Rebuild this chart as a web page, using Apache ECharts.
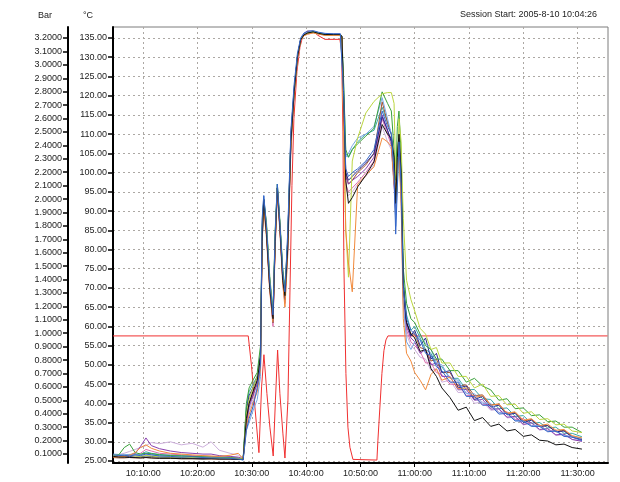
<!DOCTYPE html>
<html>
<head>
<meta charset="utf-8">
<script src="https://cdn.jsdelivr.net/npm/echarts@6/dist/echarts.min.js"></script>
<style>
html, body { margin: 0; padding: 0; background: #fff; }
#chart { width: 620px; height: 482px; }
</style>
</head>
<body>
<div id="chart"></div>
<script>
// minutes after 10:00:00
const times = [
  4.5, 5.5, 6.5, 7.5, 8.5, 9.5, 10.5, 11.5, 13, 15, 17, 19, 21, 22.5, 24, 26, 27.5, 28.4,
  29, 29.5, 30.2, 31, 31.6, 31.9, 32.2, 32.7, 33.3, 33.9, 34.3, 34.7, 35.2, 35.7, 36.1, 36.6, 37.2, 37.8, 38.4, 39, 39.6,
  40.3, 41.3, 42.3, 43.5, 45, 46.3, 46.6,
  46.9, 47.3, 47.8, 48.5, 49.5, 51, 52.5, 54, 55, 55.7, 56.2, 56.5, 56.8, 57.1, 57.5, 57.9, 58.5, 59.3,
  60, 61, 62, 63, 64, 65, 66.5, 68, 69.5, 71, 72.5, 74, 75.5, 77, 78.5, 80, 81.5, 83, 84.5, 86, 87.5, 89, 90.8
]

const tBlack = [
  26.2, 26.0, 26.0, 25.9, 25.9, 25.8, 25.9, 25.8, 25.7, 25.7, 25.6, 25.6, 25.5, 25.6, 25.5, 25.5, 25.4, 25.4,
  36, 40, 43, 46, 52, 82, 93, 84, 70, 62, 82, 96, 85, 72, 68, 80, 108, 121, 130, 134.5, 135.8,
  136.3, 136.6, 136.2, 135.9, 135.9, 135.9, 135.3,
  120, 98, 92, 93.5, 96.3, 99.3, 102.8, 112.5, 110, 109, 104, 92, 104, 110, 100, 71, 61, 58,
  57, 53.5, 54, 49, 47, 44, 41.5, 38.2, 39, 35.5, 36.3, 34, 34.6, 32.8, 33.2, 31.4, 31.8, 30.4, 30.2, 29.2, 29.4, 28.5, 28.1
]
const tBlue = [
  26.6, 26.4, 26.5, 26.3, 26.6, 26.4, 26.8, 26.6, 26.3, 26.2, 26.0, 26.1, 25.9, 25.8, 25.8, 25.7, 25.5, 25.3,
  33, 36, 39, 44, 50, 88, 94, 86, 72, 63, 84, 97, 86, 74, 69, 84, 111, 123, 131, 135, 136.3,
  136.8, 136.9, 136.5, 136.2, 136.1, 136.1, 135.6,
  121, 101, 99, 100, 101, 103, 106, 116, 112, 110, 100, 84, 96, 108, 97, 70, 62, 59,
  58, 56.5, 53, 52.5, 49.5, 48.5, 45.5, 45.5, 41.8, 41.8, 39.5, 39.5, 37.2, 37.4, 35.4, 35.4, 34, 34, 32.6, 32.8, 31.4, 31.2, 30.3
]
const tNavy = [
  26.3, 26.2, 26.1, 26.2, 26.0, 26.1, 26.3, 26.2, 26.0, 25.9, 25.9, 25.8, 25.7, 25.7, 25.6, 25.6, 25.5, 25.4,
  38, 42, 44, 47, 53, 85, 93, 85, 71, 61, 83, 96, 86, 73, 67, 82, 110, 122, 130, 134.8, 136,
  136.5, 136.7, 136.3, 136.0, 136.0, 136.0, 135.4,
  119, 100, 98, 99, 100.5, 102.5, 105, 114.5, 111, 108, 98, 89, 102, 106, 96, 69, 61, 57.5,
  59, 55, 57, 51.5, 53, 48, 48.5, 44, 44.5, 41, 41.8, 39, 39.5, 37, 37.4, 35, 35.6, 34, 34.2, 32.6, 32.8, 31.2, 30.6
]
const tGreen = [
  26.4, 26.6, 28.5, 29.4, 27.2, 26.8, 27.0, 26.9, 26.6, 26.4, 26.3, 26.2, 26.1, 26.0, 26.0, 25.9, 25.7, 25.5,
  40, 44, 46, 48, 55, 86, 93, 87, 73, 64, 85, 97, 87, 75, 70, 82, 109, 121, 130, 134.5, 135.7,
  136.3, 136.6, 136.2, 135.9, 135.9, 135.9, 135.3,
  124, 106, 104, 106, 107.5, 109.5, 111.5, 121, 118, 116, 106, 98, 112, 116, 105, 75, 66, 62,
  61, 58, 55, 54, 51.5, 51.5, 48.5, 48.5, 45.5, 46.5, 44.5, 43.5, 40.8, 41.2, 38.6, 38.8, 36.8, 37, 35.2, 35.4, 33.8, 33.8, 32.4
]
const tLime = [
  26.5, 26.4, 26.3, 26.4, 26.3, 26.2, 26.4, 26.3, 26.1, 26.0, 26.0, 25.9, 25.9, 25.8, 25.7, 25.7, 25.6, 25.5,
  37, 41, 44, 47, 51, 84, 92, 86, 72, 63, 83, 96, 86, 73, 68, 81, 109, 121, 130, 134.5, 135.7,
  136.2, 136.5, 136.1, 135.8, 135.8, 135.8, 135.2,
  115, 85, 72.8, 103, 109, 115.5, 118.5, 120.5, 120.8, 120.8, 118, 100, 95, 114, 108, 88, 72, 67,
  64, 59.5, 58, 54, 54.5, 50.5, 50.5, 47, 47, 44, 45, 41.8, 42, 39.6, 39.8, 37.4, 37.8, 35.8, 36, 34.4, 34.6, 32.8, 32.4
]
const tOrange = [
  26.0, 26.1, 26.2, 26.5, 27.2, 28.5, 29.2, 28.3, 27.6, 27.0, 26.8, 26.6, 26.4, 26.3, 26.2, 26.5, 27.0, 25.6,
  34, 37, 40, 43, 49, 82, 91, 83, 69, 61, 80, 95, 84, 71, 65, 78, 106, 120, 129.5, 134.3, 135.6,
  136.0, 136.3, 136.0, 135.7, 135.7, 135.7, 135.0,
  112, 85, 76.5, 69, 97, 99.3, 101.5, 109, 108, 106.8, 97, 96, 103, 106, 92, 62, 53, 51,
  48, 46, 43.5, 47.5, 49, 46, 46.8, 43.8, 44, 41.5, 42, 39.5, 39.8, 37.4, 37.8, 35.6, 36, 34.2, 34.6, 33, 33.2, 31.6, 31.0
]
const tPurple = [
  26.4, 26.5, 26.4, 26.6, 26.9, 28.8, 31.0, 29.0, 28.2, 27.6, 27.2, 27.0, 26.8, 26.8, 26.4, 26.2, 26.0, 25.6,
  35, 39, 42, 45, 51, 84, 92, 85, 70, 61, 82, 96, 85, 72, 67, 80, 108, 121, 130, 134.6, 135.8,
  136.3, 136.6, 136.2, 135.9, 135.9, 135.9, 135.3,
  118, 99, 97, 98, 99, 101, 104, 115, 111, 108, 99, 90, 103, 107, 96, 68, 60, 57,
  56, 53, 54, 50, 50.5, 47, 47, 43.5, 43.6, 40.8, 41, 38.5, 38.6, 36.4, 36.6, 34.5, 35, 33.2, 33.4, 31.8, 32, 30.6, 30.1
]
const tPink = [
  26.2, 26.3, 26.4, 26.3, 26.5, 27.0, 28.0, 27.6, 27.0, 26.8, 26.6, 26.4, 26.3, 26.2, 26.1, 26.0, 25.8, 25.5,
  36, 40, 43, 45, 50, 83, 92, 84, 70, 60, 81, 95, 85, 72, 66, 79, 107, 120, 129.5, 134.4, 135.7,
  136.2, 136.5, 136.1, 135.8, 135.8, 135.8, 135.2,
  117, 97, 95, 96, 97.5, 100, 103, 114, 110, 107, 97, 90, 101, 106, 95, 67, 59, 56,
  55, 53.5, 50.5, 50.5, 48, 47.5, 45, 44.8, 42, 42, 39.6, 39.8, 37.6, 37.8, 35.8, 36, 34.2, 34.4, 32.8, 33, 31.5, 31.4, 30.4
]
const tSky = [
  26.8, 26.7, 26.6, 26.7, 26.5, 26.6, 26.9, 26.7, 26.4, 26.3, 26.2, 26.1, 26.0, 25.9, 25.9, 25.8, 25.6, 25.2,
  33, 35, 38, 41, 47, 87, 94, 86, 72, 63, 84, 97, 86, 74, 69, 83, 110, 122, 130.5, 134.8, 136,
  136.5, 136.8, 136.4, 136.1, 136.0, 136.0, 135.5,
  122, 104, 105, 107, 109, 110, 112, 119.5, 114, 110, 100, 86, 98, 106, 94, 66, 56, 54,
  56, 58, 55.5, 54, 50.5, 50, 46.5, 46, 42.5, 42.5, 40, 40, 37.6, 37.4, 35.6, 35.4, 34.2, 34.2, 32.8, 32.8, 31.6, 31.4, 30.8
]
const tBrown = [
  25.9, 25.8, 25.8, 25.9, 25.8, 25.8, 25.9, 25.8, 25.7, 25.7, 25.6, 25.6, 25.6, 25.5, 25.5, 25.5, 25.5, 25.4,
  35, 40, 42, 46, 50, 83, 92, 85, 71, 62, 82, 96, 85, 73, 67, 81, 108, 121, 130, 134.6, 135.8,
  136.2, 136.5, 136.1, 135.8, 135.8, 135.8, 135.2,
  119, 100, 97, 98, 100, 102, 105, 118.4, 113, 110, 101, 91, 105, 110, 98, 70, 61, 58,
  58, 54.5, 54, 51, 51.5, 48, 48, 44.5, 44.8, 42, 42.2, 39.6, 39.8, 37.4, 37.6, 35.4, 35.8, 34, 34.2, 32.6, 33, 31.4, 30.8
]
const tTeal = [
  26.5, 26.6, 26.5, 26.7, 26.8, 26.6, 27.4, 27.0, 26.7, 26.5, 26.4, 26.2, 26.1, 26.0, 25.9, 25.8, 25.6, 25.4,
  39, 43, 45, 47, 52, 85, 93, 86, 72, 63, 83, 96, 86, 74, 69, 82, 109, 121, 130, 134.6, 135.8,
  136.3, 136.6, 136.2, 135.9, 135.9, 135.9, 135.4,
  123, 105, 104, 106, 108, 110, 111, 117, 113, 110, 102, 92, 106, 109, 99, 72, 63, 59,
  60, 57, 54, 53, 50, 49.5, 46.5, 46.5, 43.5, 43.6, 41.2, 41, 38.6, 38.8, 36.6, 36.8, 34.8, 35, 33.6, 33.8, 32.2, 32.2, 31.3
]
const tLilac = [
  26.5, 26.7, 27.0, 27.5, 28.0, 28.5, 29.0, 29.8, 29.5, 30.0, 29.2, 29.6, 28.6, 30.0, 27.8, 27.0, 26.5, 25.8,
  34, 38, 41, 44, 49, 82, 91, 84, 70, 61, 81, 95, 84, 71, 66, 79, 107, 120, 129.5, 134.3, 135.6,
  136.0, 136.3, 136.0, 135.7, 135.7, 135.7, 135.1,
  116, 96, 94, 95, 97, 99, 102, 112, 108, 106, 96, 88, 100, 104, 93, 66, 58, 55,
  54, 52, 51.5, 48.5, 49, 45.5, 46, 42.8, 43, 40, 40.4, 38.2, 38.4, 36.2, 36.4, 34.4, 34.8, 33, 33.4, 31.6, 31.9, 30.6, 30.2
]

const tempNames = ['T1', 'T2', 'T3', 'T4', 'T5', 'T6', 'T7', 'T8', 'T9', 'T10', 'T11', 'T12']
const tempValues = [tLilac, tPink, tTeal, tBrown, tPurple, tNavy, tSky, tGreen, tLime, tOrange, tBlack, tBlue]
const tempColors = ['#cdb0dc', '#dd6fae', '#3aa8a8', '#a3552f', '#8a3fb0', '#2b2b8c',
  '#79a8e6', '#3aa13a', '#bcd640', '#f28a3c', '#111111', '#3465c8']

// pressure, bar
const pressTimes = [4.43, 29.34, 29.96, 30.57, 31.31, 31.8, 32.23, 32.78, 33.33, 33.94, 34.35, 34.75, 35.17, 35.73, 36.1,
  36.65, 37.02, 37.39, 37.75, 38.31, 38.86, 39.41, 40.15, 41.26, 42.17, 43.46, 45.3, 46.22, 46.54, 46.78, 46.96,
  47.33, 47.7, 48.07, 48.62, 53.04, 53.22, 53.59, 53.96, 54.33, 54.7, 55.07, 95.5]
const pressValues = [0.98, 0.98, 0.75, 0.45, 0.11, 0.6, 0.84, 0.55, 0.3, 0.085, 0.5, 0.875, 0.55, 0.25, 0.07,
  0.5, 1.3, 2.1, 2.6, 2.95, 3.13, 3.22, 3.25, 3.25, 3.22, 3.19, 3.19, 3.19, 3.1, 2.5, 1.5,
  0.7, 0.3, 0.15, 0.06, 0.055, 0.2, 0.45, 0.7, 0.87, 0.95, 0.98, 0.98]

const timeTicks = [10, 20, 30, 40, 50, 60, 70, 80, 90]
const tempTicks = [25, 30, 35, 40, 45, 50, 55, 60, 65, 70, 75, 80, 85, 90, 95, 100, 105, 110, 115, 120, 125, 130, 135]
const barTicks = [0.1, 0.2, 0.3, 0.4, 0.5, 0.6, 0.7, 0.8, 0.9, 1.0, 1.1, 1.2, 1.3, 1.4, 1.5, 1.6,
  1.7, 1.8, 1.9, 2.0, 2.1, 2.2, 2.3, 2.4, 2.5, 2.6, 2.7, 2.8, 2.9, 3.0, 3.1, 3.2]

const FONT = 'Liberation Sans, Arial, sans-serif'

function pad (n) {
  return n < 10 ? '0' + n : '' + n
}
function fmtTime (m) {
  const s = Math.round(m * 60)
  return (10 + Math.floor(s / 3600)) + ':' + pad(Math.floor(s % 3600 / 60)) + ':' + pad(s % 60)
}

const chartDom = document.getElementById('chart')
const myChart = echarts.init(chartDom)

const gridLine = { show: true, lineStyle: { color: '#aca8a4', width: 1, type: [2, 3] } }

const series = [{
  name: 'Pressure',
  type: 'line',
  yAxisIndex: 1,
  symbol: 'none',
  lineStyle: { color: '#f03030', width: 1 },
  data: pressTimes.map((t, i) => [t, pressValues[i]])
}]
tempValues.forEach((vals, k) => {
  series.push({
    name: tempNames[k],
    type: 'line',
    yAxisIndex: 0,
    symbol: 'none',
    lineStyle: { color: tempColors[k], width: 1 },
    data: times.map((t, i) => [t, vals[i]])
  })
})

const option = {
  animation: false,
  backgroundColor: '#fff',
  textStyle: { fontFamily: FONT },
  grid: {
    left: 113, right: 12, top: 27, bottom: 19,
    show: true, borderColor: '#7c7c7c', borderWidth: 1, backgroundColor: '#fff'
  },
  graphic: [
    { type: 'text', x: 45, y: 16, style: { text: 'Bar', fontSize: 9, fontFamily: FONT, fill: '#222', align: 'center', verticalAlign: 'middle' } },
    { type: 'text', x: 88, y: 16, style: { text: '°C', fontSize: 9, fontFamily: FONT, fill: '#222', align: 'center', verticalAlign: 'middle' } },
    { type: 'text', x: 597, y: 15, style: { text: 'Session Start: 2005-8-10 10:04:26', fontSize: 9, fontFamily: FONT, fill: '#222', align: 'right', verticalAlign: 'middle' } }
  ],
  xAxis: {
    type: 'value',
    min: 4.433,
    max: 95.6,
    axisLine: { show: true, onZero: false, lineStyle: { color: '#000', width: 2 } },
    axisTick: { show: true, length: 4, customValues: timeTicks, lineStyle: { color: '#000' } },
    axisLabel: { customValues: timeTicks, formatter: fmtTime, fontSize: 9, color: '#222', margin: 6 },
    splitLine: gridLine
  },
  yAxis: [
    {
      type: 'value',
      position: 'left',
      min: 24.48,
      max: 137.86,
      axisLine: { show: true, onZero: false, lineStyle: { color: '#000', width: 2 } },
      axisTick: { show: true, length: 5, customValues: tempTicks, lineStyle: { color: '#000', width: 1.5 } },
      axisLabel: { customValues: tempTicks, formatter: v => v.toFixed(2), fontSize: 9, color: '#222', margin: 6 },
      splitLine: gridLine
    },
    {
      type: 'value',
      position: 'left',
      offset: 45,
      min: 0.033,
      max: 3.282,
      axisLine: { show: true, onZero: false, lineStyle: { color: '#000', width: 2 } },
      axisTick: { show: true, length: 5, customValues: barTicks, lineStyle: { color: '#000', width: 1.5 } },
      axisLabel: { customValues: barTicks, formatter: v => v.toFixed(4), fontSize: 9, color: '#222', margin: 6 },
      splitLine: { show: false }
    }
  ],
  series: series
}

myChart.setOption(option)
</script>
</body>
</html>
